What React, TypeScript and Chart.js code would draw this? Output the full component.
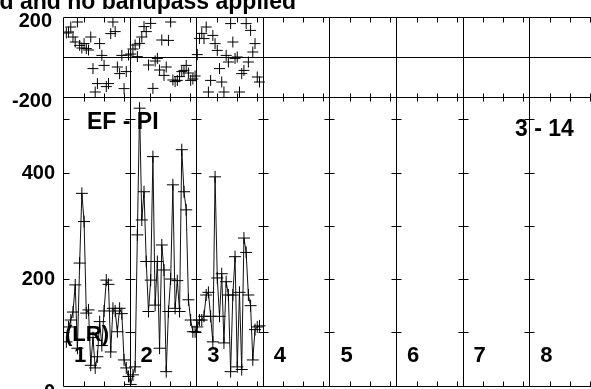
import React, { useEffect, useRef } from "react";
import { Chart, registerables } from "chart.js";

Chart.register(...registerables);

// ---- text ----
const TITLE = "d and no bandpass applied";
const PAIR_LABEL = "EF - PI";
const RANGE_LABEL = "3 - 14";
const SIDE_LABEL = "(LR)";
const COLUMN_LABELS = ["1", "2", "3", "4", "5", "6", "7", "8"];

// ---- axes ----
const TOP_TICKS = [200, -200];
const BOTTOM_TICKS = [400, 200, 0];
const BOTTOM_MINOR = [100, 200, 300, 400, 500];
const TOP_RANGE = [-200, 200];
const BOTTOM_RANGE = [0, 542];
const COLUMN_UNITS = 10; // x units per column
const SAMPLES_PER_COLUMN = 30;
const COLUMN_TICKS = [3.1, 6.1, 9.1];

// ---- data (sample by sample, columns 1–3) ----
const amplitude = [
  82, 110, 123, 138, 189, 70, 230, 361, 308, 136, 142, 38, 90, 33, 54, 120, 75, 140, 198, 190, 63, 145, 140, 101, 145, 135, 48, 33, 17, 2,
  20, 35, 283, 521, 311, 364, 233, 139, 198, 430, 151, 233, 70, 264, 217, 26, 139, 200, 377, 145, 197, 139, 443, 364, 330, 161, 123, 101, 101, 110,
  123, 123, 130, 170, 175, 130, 82, 392, 202, 130, 210, 80, 195, 170, 26, 170, 242, 35, 175, 30, 277, 250, 170, 150, 48, 105, 110, 112,
];
const phase = [
  120, 125, 150, 100, 75, 175, 58, 45, 67, 42, 35, 100, -58, -175, -133, 67, 8, -42, -148, -133, 117, 175, 127, -50, -83, 8, -158, -73, 10, 15,
  40, 60, 2, 68, 100, 152, 127, -40, 168, -157, -20, -7, -65, 85, -92, -50, 83, 175, -115, -123, -117, -98, -73, -67, -42, -80, -117, -110, -95, 12,
  93, 118, 92, 150, -175, -117, 108, 67, 33, -58, -125, -175, 8, -25, 167, 75, -7, 0, -175, -83, -67, 167, -25, 133, 25, 67, -100, -125,
];

const sampleX = (k: number) => 0.5 + (k * COLUMN_UNITS) / SAMPLES_PER_COLUMN;

// layout
const W = 591;
const H = 389;
const AREA = { left: 63, top: 17, right: 591, bottom: 385.5 };
const PANEL_SPLIT = 97;
const COLUMN_PX = 66.6;

const FONT = "'Liberation Sans', Arial, Helvetica, sans-serif";

const framePlugin = {
  id: "frame",
  beforeDatasetsDraw(chart: any) {
    const ctx = chart.ctx as CanvasRenderingContext2D;
    const xs = chart.scales.x;
    const yt = chart.scales.yt;
    const yb = chart.scales.yb;
    const { left, right, top, bottom } = chart.chartArea;
    const snap = (v: number) => Math.round(v) + 0.5;
    const line = (x1: number, y1: number, x2: number, y2: number) => {
      ctx.beginPath();
      ctx.moveTo(x1, y1);
      ctx.lineTo(x2, y2);
      ctx.stroke();
    };
    const mid = snap(yt.getPixelForValue(TOP_RANGE[0]));
    const zero = snap(yt.getPixelForValue(0));
    const T = snap(top);
    const B = snap(bottom);
    const L = snap(left);
    ctx.save();
    ctx.strokeStyle = "#000";
    ctx.lineWidth = 1;
    line(L, T, right + 5, T);
    line(L, mid, right + 5, mid);
    line(L, zero, right + 5, zero);
    line(L, B, right + 5, B);
    line(L, T, L, B);
    const cols: number[] = [];
    for (let c = 1; c <= COLUMN_LABELS.length; c++) {
      const px = xs.getPixelForValue(c * COLUMN_UNITS);
      if (px <= right + 1) {
        cols.push(px);
        line(snap(px), T, snap(px), B);
      }
    }
    for (let c = 0; c < COLUMN_LABELS.length; c++) {
      for (const o of COLUMN_TICKS) {
        const px = xs.getPixelForValue(c * COLUMN_UNITS + o);
        if (px > right + 1) continue;
        const sx = snap(px);
        line(sx, T, sx, T + 5);
        line(sx, mid - 4, sx, mid + 4);
        line(sx, B - 5, sx, B);
      }
    }
    for (const v of BOTTOM_MINOR) {
      const py = snap(yb.getPixelForValue(v));
      line(L, py, L + 6, py);
      for (const px of cols) line(snap(px) - 5, py, snap(px) + 5, py);
    }
    ctx.restore();
  },
  afterDraw(chart: any) {
    const ctx = chart.ctx as CanvasRenderingContext2D;
    const xs = chart.scales.x;
    const yt = chart.scales.yt;
    const yb = chart.scales.yb;
    ctx.save();
    ctx.fillStyle = "#000";
    // tick labels
    ctx.font = `bold 20px ${FONT}`;
    ctx.textAlign = "right";
    ctx.textBaseline = "middle";
    TOP_TICKS.forEach((v) => {
      ctx.fillText(String(v), 52, yt.getPixelForValue(v) + 4);
    });
    BOTTOM_TICKS.forEach((v) => {
      const off = v === 0 ? 7 : v === 400 ? 1 : 0;
      ctx.fillText(String(v), 55, yb.getPixelForValue(v) + off);
    });
    // title
    ctx.font = `bold 23px ${FONT}`;
    ctx.textAlign = "right";
    ctx.textBaseline = "alphabetic";
    ctx.fillText(TITLE, 296, 8.5);
    // annotations
    ctx.textAlign = "left";
    ctx.textBaseline = "middle";
    ctx.font = `bold 23px ${FONT}`;
    ctx.fillText(PAIR_LABEL, 87, 123);
    ctx.fillText(RANGE_LABEL, 515, 130);
    ctx.font = `bold 22px ${FONT}`;
    ctx.fillText(SIDE_LABEL, 65, 335);
    COLUMN_LABELS.forEach((lab, i) => {
      const px = xs.getPixelForValue(i * COLUMN_UNITS);
      ctx.fillText(lab, px + 11, 356);
    });
    ctx.restore();
  },
};

export default function App() {
  const ref = useRef<HTMLCanvasElement | null>(null);
  useEffect(() => {
    if (!ref.current) return;
    const areaH = AREA.bottom - AREA.top;
    const topFrac = (PANEL_SPLIT - AREA.top) / areaH;
    const topSpan = TOP_RANGE[1] - TOP_RANGE[0];
    const ytMin = TOP_RANGE[1] - topSpan / topFrac;
    const ybMax = BOTTOM_RANGE[1] / (1 - topFrac);
    const xMax = (COLUMN_UNITS * (AREA.right - AREA.left)) / COLUMN_PX;

    const ampPts = amplitude.map((v, k) => ({ x: sampleX(k), y: v }));
    const phPts = phase.map((v, k) => ({ x: sampleX(k), y: v }));

    const chart = new Chart(ref.current, {
      type: "scatter",
      data: {
        datasets: [
          {
            label: "phase",
            data: phPts,
            yAxisID: "yt",
            showLine: false,
            pointStyle: "cross",
            pointRadius: 5.5,
            pointBorderWidth: 1,
            borderColor: "#000",
            backgroundColor: "#000",
          },
          {
            label: "amplitude",
            data: ampPts,
            yAxisID: "yb",
            showLine: true,
            borderColor: "#111",
            borderWidth: 1,
            pointStyle: "cross",
            pointRadius: 6,
            pointBorderWidth: 1,
            pointBorderColor: "#000",
            backgroundColor: "#000",
            tension: 0,
          },
        ],
      },
      options: {
        animation: false,
        responsive: false,
        devicePixelRatio: 1,
        layout: {
          autoPadding: false,
          padding: {
            left: AREA.left,
            top: AREA.top,
            right: W - AREA.right,
            bottom: H - AREA.bottom,
          },
        },
        plugins: { legend: { display: false }, tooltip: { enabled: false } },
        scales: {
          x: { type: "linear", min: 0, max: xMax, display: false },
          yt: { type: "linear", min: ytMin, max: TOP_RANGE[1], display: false },
          yb: { type: "linear", min: BOTTOM_RANGE[0], max: ybMax, display: false },
        },
      },
      plugins: [framePlugin],
    });
    return () => chart.destroy();
  }, []);

  return (
    <div style={{ position: "fixed", left: 0, top: 0, width: W, height: H, overflow: "hidden", background: "#fff" }}>
      <canvas ref={ref} width={W} height={H} style={{ display: "block", width: W, height: H }} />
    </div>
  );
}
